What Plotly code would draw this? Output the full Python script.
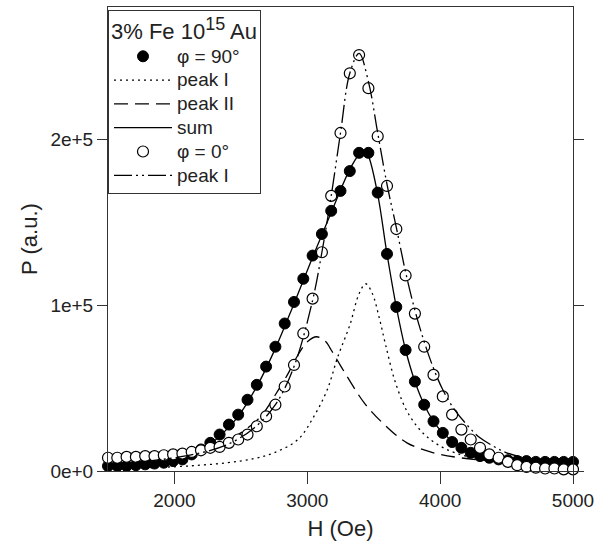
import plotly.graph_objects as go

# ---- data ----
H_grid = [1500, 1570, 1640, 1710, 1780, 1850, 1920, 1990, 2060, 2130, 2200, 2270, 2340, 2410,
          2480, 2550, 2620, 2690, 2760, 2830, 2900, 2970, 3040, 3110, 3180, 3250, 3320, 3390,
          3460, 3530, 3600, 3670, 3740, 3810, 3880, 3950, 4020, 4090, 4160, 4230, 4300, 4370,
          4440, 4510, 4580, 4650, 4720, 4790, 4860, 4930, 5000]

P90 = [0.03, 0.03, 0.03, 0.035, 0.04, 0.045, 0.05, 0.06, 0.07, 0.10, 0.13, 0.17, 0.22, 0.28,
       0.34, 0.43, 0.52, 0.63, 0.75, 0.89, 1.02, 1.16, 1.30, 1.43, 1.57, 1.69, 1.81, 1.92,
       1.92, 1.68, 1.31, 0.99, 0.73, 0.54, 0.40, 0.30, 0.23, 0.175, 0.14, 0.11, 0.09, 0.08,
       0.07, 0.065, 0.06, 0.06, 0.055, 0.055, 0.055, 0.055, 0.055]

P0 = [0.08, 0.08, 0.085, 0.085, 0.09, 0.09, 0.095, 0.10, 0.105, 0.115, 0.125, 0.14, 0.145, 0.17,
      0.19, 0.22, 0.27, 0.33, 0.40, 0.51, 0.64, 0.83, 1.04, 1.32, 1.66, 2.04, 2.40, 2.51,
      2.31, 2.02, 1.72, 1.46, 1.18, 0.95, 0.75, 0.58, 0.45, 0.34, 0.25, 0.19, 0.14, 0.10,
      0.08, 0.055, 0.035, 0.025, 0.02, 0.015, 0.015, 0.01, 0.01]

H_p1 = [1500, 1800, 2100, 2400, 2600, 2750, 2930, 3050, 3150, 3230, 3320, 3390, 3440, 3490,
        3540, 3590, 3665, 3765, 3910, 4110, 4400, 4700, 5000]
P_p1 = [0.015, 0.02, 0.03, 0.05, 0.075, 0.11, 0.19, 0.33, 0.49, 0.69, 0.88, 1.07, 1.13, 1.07,
        0.93, 0.76, 0.53, 0.34, 0.20, 0.11, 0.06, 0.04, 0.03]

H_p2 = [1500, 1800, 2100, 2300, 2500, 2650, 2760, 2850, 2930, 3000, 3070, 3140, 3180, 3300,
        3430, 3580, 3750, 3950, 4150, 4400, 4700, 5000]
P_p2 = [0.04, 0.06, 0.10, 0.14, 0.23, 0.33, 0.46, 0.58, 0.70, 0.78, 0.81, 0.78, 0.73, 0.57,
        0.41, 0.28, 0.17, 0.11, 0.08, 0.06, 0.045, 0.035]

H_sum = [1500, 1800, 2000, 2200, 2340, 2480, 2620, 2760, 2900, 3040, 3180, 3320, 3390, 3430,
         3460, 3530, 3600, 3670, 3740, 3810, 3880, 3950, 4020, 4160, 4300, 4500, 4700, 5000]
P_sum = [0.04, 0.05, 0.07, 0.12, 0.21, 0.33, 0.51, 0.74, 1.01, 1.29, 1.56, 1.82, 1.91, 1.93,
         1.90, 1.67, 1.31, 0.99, 0.73, 0.54, 0.40, 0.30, 0.23, 0.14, 0.09, 0.065, 0.055, 0.05]

H_p1b = [1500, 1800, 2000, 2200, 2400, 2600, 2760, 2900, 3040, 3110, 3180, 3250, 3320, 3390,
         3460, 3530, 3600, 3670, 3740, 3810, 3880, 3950, 4020, 4100, 4200, 4300, 4400, 4500,
         4700, 5000]
P_p1b = [0.04, 0.06, 0.08, 0.11, 0.16, 0.26, 0.40, 0.63, 1.03, 1.32, 1.66, 2.04, 2.40, 2.52,
         2.35, 2.04, 1.73, 1.47, 1.20, 0.97, 0.78, 0.62, 0.49, 0.38, 0.28, 0.20, 0.15, 0.11,
         0.07, 0.045]

SCALE = 1e5
y_ticks = [0, 1e5, 2e5]
y_ticktext = ["0e+0", "1e+5", "2e+5"]
x_ticks = [2000, 3000, 4000, 5000]
legend_title = "3% Fe 10<sup><span style='font-size:18px'>15</span></sup> Au"
names = ["φ = 90°", "peak I", "peak II", "sum", "φ = 0°", "peak I"]

def s(v):
    return [a * SCALE for a in v]

def big(t):
    return "<span style='font-size:19px'>" + t + "</span>"

FONT = "Arial, Liberation Sans, sans-serif"
INK = "#222"

fig = go.Figure()
fig.add_trace(go.Scatter(x=H_grid, y=s(P90), mode="markers", name=big(names[0]),
                         marker=dict(symbol="circle", size=11, color="black",
                                     line=dict(color="black", width=1)),
                         cliponaxis=False))
fig.add_trace(go.Scatter(x=H_p1, y=s(P_p1), mode="lines", name=big(names[1]), line_shape="spline",
                         line=dict(color="black", width=1.3, dash="2px,4px")))
fig.add_trace(go.Scatter(x=H_p2, y=s(P_p2), mode="lines", name=big(names[2]), line_shape="spline",
                         line=dict(color="black", width=1.3, dash="14px,7px")))
fig.add_trace(go.Scatter(x=H_sum, y=s(P_sum), mode="lines", name=big(names[3]), line_shape="spline",
                         line=dict(color="black", width=1.3)))
fig.add_trace(go.Scatter(x=H_grid, y=s(P0), mode="markers", name=big(names[4]),
                         marker=dict(symbol="circle", size=11, color="white",
                                     line=dict(color="black", width=1.2)),
                         cliponaxis=False))
fig.add_trace(go.Scatter(x=H_p1b, y=s(P_p1b), mode="lines", name=big(names[5]), line_shape="spline",
                         line=dict(color="black", width=1.3, dash="18px,4px,2px,4px,2px,4px")))

fig.update_layout(
    width=600, height=556,
    margin=dict(l=108, r=23, t=6, b=85),
    paper_bgcolor="white", plot_bgcolor="white",
    font=dict(family=FONT, size=16, color=INK),
    showlegend=True,
    legend=dict(x=0, y=0.994, xanchor="left", yanchor="top",
                bgcolor="white", bordercolor="#333", borderwidth=1,
                font=dict(family=FONT, size=16, color=INK),
                title=dict(text=legend_title, font=dict(family=FONT, size=22, color=INK)),
                tracegroupgap=0, itemwidth=58),
    xaxis=dict(range=[1500, 5000], tickvals=x_ticks, ticks="outside", ticklen=12,
               tickcolor="#333", showline=True, linecolor="#333", linewidth=1, mirror=True,
               showgrid=False, zeroline=False,
               tickfont=dict(family=FONT, size=19, color=INK),
               title=dict(text="H (Oe)", font=dict(family=FONT, size=22, color=INK),
                          standoff=10)),
    yaxis=dict(range=[0, 2.8e5], tickvals=y_ticks, ticktext=y_ticktext, ticks="outside",
               ticklen=10, tickcolor="#333", showline=True, linecolor="#333", linewidth=1,
               mirror="ticks", showgrid=False, zeroline=False,
               tickfont=dict(family=FONT, size=19, color=INK),
               title=dict(text="P (a.u.)", font=dict(family=FONT, size=22, color=INK),
                          standoff=6)),
)

fig.write_html("out.html")
